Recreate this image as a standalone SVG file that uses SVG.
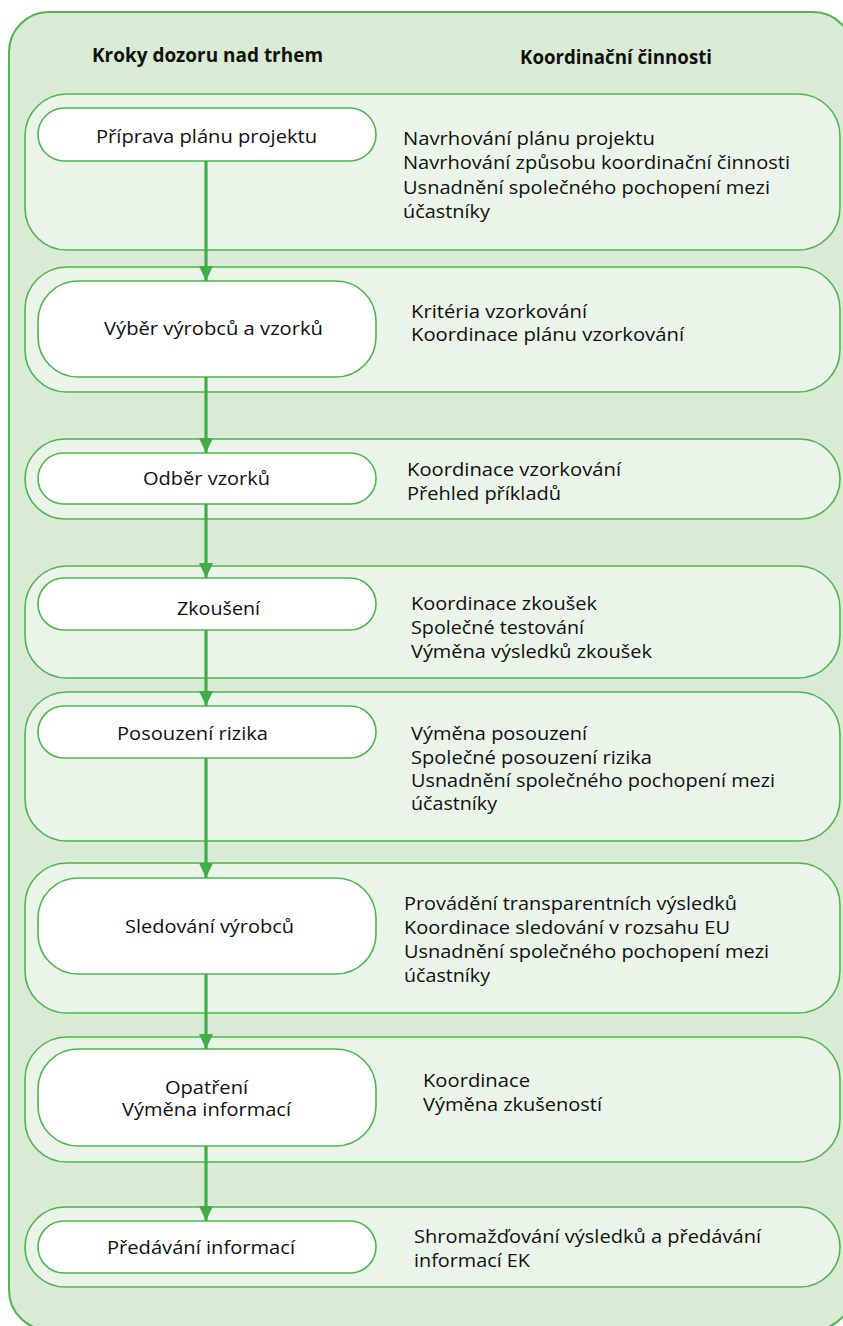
<svg xmlns="http://www.w3.org/2000/svg" width="843" height="1326" viewBox="0 0 843 1326">
  <style>
    .frame { fill: #d9ead5; stroke: #4db64f; stroke-width: 2; }
    .row { fill: #eaf4e8; stroke: #4db64f; stroke-width: 1.6; }
    .pill { fill: #ffffff; stroke: #4db64f; stroke-width: 1.6; }
    .head { font-family: "Open Sans", "Noto Sans", "DejaVu Sans", sans-serif; font-size: 19px; font-weight: bold; fill: #111111; }
    .lbl { font-family: "Open Sans", "Noto Sans", "DejaVu Sans", sans-serif; font-size: 18px; fill: #111111; }
    .flow { stroke: #3fae49; stroke-width: 3.2; fill: none; }
  </style>
  <defs>
    <marker id="arrowhead" markerUnits="userSpaceOnUse" markerWidth="16" markerHeight="22" refX="15" refY="8" orient="auto">
      <path d="M0,1 L15,8 L0,15 Z" fill="#3fae49"/>
    </marker>
  </defs>

  <!-- background frame -->
  <rect class="frame" x="9" y="12" width="844" height="1318" rx="40"/>

  <!-- column headings -->
  <g id="headings">
    <text class="head" x="92" y="62" textLength="231" lengthAdjust="spacingAndGlyphs">Kroky dozoru nad trhem</text>
    <text class="head" x="520" y="64" textLength="192" lengthAdjust="spacingAndGlyphs">Koordinační činnosti</text>
  </g>

  <!-- step 1 -->
  <g id="step-priprava">
    <rect class="row" x="25" y="94" width="815" height="156" rx="42"/>
    <rect class="pill" x="38" y="108" width="338" height="53" rx="26.5"/>
    <text class="lbl" x="96" y="143" textLength="221" lengthAdjust="spacingAndGlyphs">Příprava plánu projektu</text>
    <text class="lbl" x="403" y="145" textLength="252" lengthAdjust="spacingAndGlyphs">Navrhování plánu projektu</text>
    <text class="lbl" x="403" y="169" textLength="387" lengthAdjust="spacingAndGlyphs">Navrhování způsobu koordinační činnosti</text>
    <text class="lbl" x="403" y="194" textLength="367" lengthAdjust="spacingAndGlyphs">Usnadnění společného pochopení mezi</text>
    <text class="lbl" x="403" y="218" textLength="87" lengthAdjust="spacingAndGlyphs">účastníky</text>
  </g>

  <!-- step 2 -->
  <g id="step-vyber">
    <rect class="row" x="25" y="267" width="815" height="125" rx="42"/>
    <rect class="pill" x="38" y="281" width="338" height="96" rx="40"/>
    <text class="lbl" x="104" y="335" textLength="219" lengthAdjust="spacingAndGlyphs">Výběr výrobců a vzorků</text>
    <text class="lbl" x="411" y="318" textLength="176" lengthAdjust="spacingAndGlyphs">Kritéria vzorkování</text>
    <text class="lbl" x="411" y="341" textLength="273" lengthAdjust="spacingAndGlyphs">Koordinace plánu vzorkování</text>
  </g>

  <!-- step 3 -->
  <g id="step-odber">
    <rect class="row" x="25" y="439" width="815" height="80" rx="40"/>
    <rect class="pill" x="38" y="453" width="338" height="51" rx="25.5"/>
    <text class="lbl" x="143" y="485" textLength="127" lengthAdjust="spacingAndGlyphs">Odběr vzorků</text>
    <text class="lbl" x="407" y="476" textLength="214" lengthAdjust="spacingAndGlyphs">Koordinace vzorkování</text>
    <text class="lbl" x="407" y="500" textLength="154" lengthAdjust="spacingAndGlyphs">Přehled příkladů</text>
  </g>

  <!-- step 4 -->
  <g id="step-zkouseni">
    <rect class="row" x="25" y="566" width="815" height="112" rx="42"/>
    <rect class="pill" x="38" y="578" width="338" height="52" rx="26"/>
    <text class="lbl" x="177" y="615" textLength="83" lengthAdjust="spacingAndGlyphs">Zkoušení</text>
    <text class="lbl" x="411" y="610" textLength="186" lengthAdjust="spacingAndGlyphs">Koordinace zkoušek</text>
    <text class="lbl" x="411" y="634" textLength="173" lengthAdjust="spacingAndGlyphs">Společné testování</text>
    <text class="lbl" x="411" y="658" textLength="241" lengthAdjust="spacingAndGlyphs">Výměna výsledků zkoušek</text>
  </g>

  <!-- step 5 -->
  <g id="step-posouzeni">
    <rect class="row" x="25" y="692" width="815" height="149" rx="42"/>
    <rect class="pill" x="38" y="706" width="338" height="52" rx="26"/>
    <text class="lbl" x="117" y="740" textLength="151" lengthAdjust="spacingAndGlyphs">Posouzení rizika</text>
    <text class="lbl" x="411" y="740" textLength="176" lengthAdjust="spacingAndGlyphs">Výměna posouzení</text>
    <text class="lbl" x="411" y="764" textLength="241" lengthAdjust="spacingAndGlyphs">Společné posouzení rizika</text>
    <text class="lbl" x="411" y="787" textLength="364" lengthAdjust="spacingAndGlyphs">Usnadnění společného pochopení mezi</text>
    <text class="lbl" x="411" y="810" textLength="86" lengthAdjust="spacingAndGlyphs">účastníky</text>
  </g>

  <!-- step 6 -->
  <g id="step-sledovani">
    <rect class="row" x="25" y="863" width="815" height="150" rx="42"/>
    <rect class="pill" x="38" y="878" width="338" height="96" rx="40"/>
    <text class="lbl" x="125" y="933" textLength="169" lengthAdjust="spacingAndGlyphs">Sledování výrobců</text>
    <text class="lbl" x="404" y="910" textLength="333" lengthAdjust="spacingAndGlyphs">Provádění transparentních výsledků</text>
    <text class="lbl" x="404" y="934" textLength="326" lengthAdjust="spacingAndGlyphs">Koordinace sledování v rozsahu EU</text>
    <text class="lbl" x="404" y="958" textLength="365" lengthAdjust="spacingAndGlyphs">Usnadnění společného pochopení mezi</text>
    <text class="lbl" x="404" y="982" textLength="86" lengthAdjust="spacingAndGlyphs">účastníky</text>
  </g>

  <!-- step 7 -->
  <g id="step-opatreni">
    <rect class="row" x="25" y="1037" width="815" height="125" rx="42"/>
    <rect class="pill" x="38" y="1049" width="338" height="97" rx="40"/>
    <text class="lbl" x="165" y="1094" textLength="83" lengthAdjust="spacingAndGlyphs">Opatření</text>
    <text class="lbl" x="122" y="1116" textLength="169" lengthAdjust="spacingAndGlyphs">Výměna informací</text>
    <text class="lbl" x="423" y="1087" textLength="107" lengthAdjust="spacingAndGlyphs">Koordinace</text>
    <text class="lbl" x="423" y="1111" textLength="179" lengthAdjust="spacingAndGlyphs">Výměna zkušeností</text>
  </g>

  <!-- step 8 -->
  <g id="step-predavani">
    <rect class="row" x="25" y="1207" width="815" height="80" rx="40"/>
    <rect class="pill" x="38" y="1221" width="338" height="52" rx="26"/>
    <text class="lbl" x="107" y="1254" textLength="188" lengthAdjust="spacingAndGlyphs">Předávání informací</text>
    <text class="lbl" x="414" y="1243" textLength="347" lengthAdjust="spacingAndGlyphs">Shromažďování výsledků a předávání</text>
    <text class="lbl" x="414" y="1267" textLength="116" lengthAdjust="spacingAndGlyphs">informací EK</text>
  </g>

  <!-- flow arrows between the steps -->
  <g id="connectors">
    <line class="flow" x1="206" y1="161" x2="206" y2="281" marker-end="url(#arrowhead)"/>
    <line class="flow" x1="206" y1="377" x2="206" y2="453" marker-end="url(#arrowhead)"/>
    <line class="flow" x1="206" y1="504" x2="206" y2="578" marker-end="url(#arrowhead)"/>
    <line class="flow" x1="206" y1="630" x2="206" y2="706" marker-end="url(#arrowhead)"/>
    <line class="flow" x1="206" y1="758" x2="206" y2="878" marker-end="url(#arrowhead)"/>
    <line class="flow" x1="206" y1="974" x2="206" y2="1049" marker-end="url(#arrowhead)"/>
    <line class="flow" x1="206" y1="1146" x2="206" y2="1221" marker-end="url(#arrowhead)"/>
  </g>
</svg>
